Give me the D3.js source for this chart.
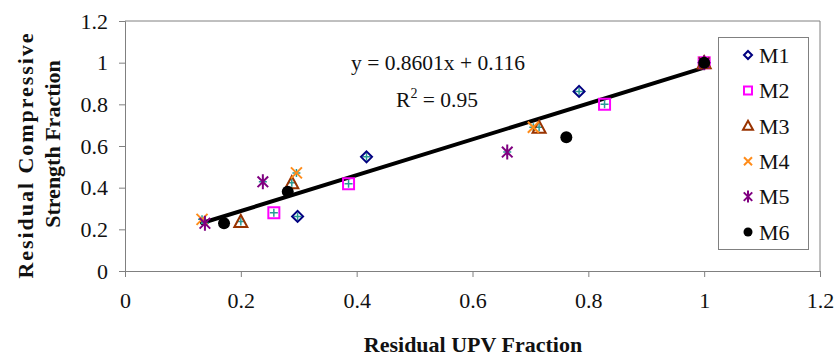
<!DOCTYPE html>
<html>
<head>
<meta charset="utf-8">
<script src="https://cdn.jsdelivr.net/npm/d3@7"></script>
<style>
  body { margin: 0; background: #fff; }
  svg { display: block; }
</style>
</head>
<body>
<svg id="chart" width="836" height="358"></svg>
<script>
// series data: [upv fraction, strength fraction]
var seriesNames = ['M1', 'M2', 'M3', 'M4', 'M5', 'M6'];
var m1 = [[0.298, 0.262], [0.417, 0.548], [0.784, 0.862], [1, 1]];
var m2 = [[0.257, 0.280], [0.386, 0.419], [0.828, 0.800], [1, 1]];
var m3 = [[0.200, 0.238], [0.288, 0.424], [0.715, 0.690], [1, 1]];
var m4 = [[0.133, 0.248], [0.296, 0.471], [0.705, 0.690], [1, 1]];
var m5 = [[0.138, 0.229], [0.238, 0.428], [0.660, 0.571], [1, 1]];
var m6 = [[0.171, 0.229], [0.281, 0.381], [0.762, 0.642], [1, 1]];
var seriesData = [m1, m2, m3, m4, m5, m6];

var xTicks = [0, 0.2, 0.4, 0.6, 0.8, 1, 1.2];
var yTicks = [0, 0.2, 0.4, 0.6, 0.8, 1, 1.2];
var trendSlope = 0.8601;
var trendIntercept = 0.116;
var trendRange = [0.133, 1];

var config = {
  left: 125, right: 820, top: 21, bottom: 271,
  axisColor: '#808080',
  tickSize: 6,
  fontSize: 22,
  font: '"Liberation Serif", "Times New Roman", serif',
  colors: ['#000080', '#ff00ff', '#993300', '#ff8c1a', '#800080', '#000000'],
  plusColor: '#2a9a96'
};

var svg = d3.select('#chart').attr('font-family', config.font);

var x = d3.scaleLinear().domain([0, 1.2]).range([config.left, config.right]);
var y = d3.scaleLinear().domain([0, 1.2]).range([config.bottom, config.top]);

// plot area frame (top + right)
svg.append('path')
  .attr('d', 'M' + config.left + ',' + config.top + 'H' + config.right + 'V' + config.bottom)
  .attr('fill', 'none')
  .attr('stroke', config.axisColor)
  .attr('stroke-width', 1);

var xAxis = svg.append('g')
  .attr('transform', 'translate(0,' + config.bottom + ')')
  .call(d3.axisBottom(x).tickValues(xTicks).tickSize(config.tickSize).tickPadding(15).tickFormat(d3.format('')));
var yAxis = svg.append('g')
  .attr('transform', 'translate(' + config.left + ',0)')
  .call(d3.axisLeft(y).tickValues(yTicks).tickSize(config.tickSize).tickPadding(11).tickFormat(d3.format('')));

[xAxis, yAxis].forEach(function(a) {
  a.attr('font-family', config.font).attr('font-size', config.fontSize);
  a.select('.domain').attr('stroke', config.axisColor);
  a.selectAll('.tick line').attr('stroke', config.axisColor);
  a.selectAll('.tick text').attr('fill', '#111');
});

// axis titles
svg.append('text')
  .attr('x', 473)
  .attr('y', 352)
  .attr('text-anchor', 'middle')
  .attr('font-weight', 'bold')
  .attr('font-size', config.fontSize + 'px')
  .attr('fill', '#111')
  .text('Residual UPV Fraction');

svg.append('text')
  .attr('transform', 'translate(33,156) rotate(-90)')
  .attr('text-anchor', 'middle')
  .attr('font-weight', 'bold')
  .attr('font-size', config.fontSize + 'px')
  .attr('fill', '#111')
  .attr('textLength', 245)
  .attr('lengthAdjust', 'spacing')
  .text('Residual Compressive');
svg.append('text')
  .attr('transform', 'translate(60,144) rotate(-90)')
  .attr('text-anchor', 'middle')
  .attr('font-weight', 'bold')
  .attr('font-size', config.fontSize + 'px')
  .attr('fill', '#111')
  .text('Strength Fraction');

// trend line
var line = d3.line()
  .x(function(d) { return x(d); })
  .y(function(d) { return y(trendSlope * d + trendIntercept); });
svg.append('path')
  .attr('d', line(trendRange))
  .attr('fill', 'none')
  .attr('stroke', '#000')
  .attr('stroke-width', 4)
  .attr('stroke-linecap', 'round');

// marker shapes
function markerPath(i, s) {
  var h = s / 2;
  if (i === 0) return 'M0,' + (-h) + 'L' + h + ',0L0,' + h + 'L' + (-h) + ',0Z';
  if (i === 1) return 'M' + (-h) + ',' + (-h) + 'H' + h + 'V' + h + 'H' + (-h) + 'Z';
  if (i === 2) return 'M0,' + (-h - 1) + 'L' + (h + 1) + ',' + h + 'H' + (-h - 1) + 'Z';
  if (i === 3) return 'M' + (-h) + ',' + (-h) + 'L' + h + ',' + h + 'M' + h + ',' + (-h) + 'L' + (-h) + ',' + h;
  if (i === 4) {
    var r = h + 1, a = r * 0.707;
    return 'M0,' + (-r) + 'V' + r + 'M' + (-a) + ',' + (-a) + 'L' + a + ',' + a + 'M' + a + ',' + (-a) + 'L' + (-a) + ',' + a;
  }
  return null;
}

function drawMarker(g, i, s) {
  if (i === 5) {
    g.append('circle').attr('r', s / 2 + 0.5).attr('fill', '#000');
  } else {
    g.append('path')
      .attr('d', markerPath(i, s))
      .attr('fill', 'none')
      .attr('stroke', config.colors[i])
      .attr('stroke-width', 2);
  }
}

// small teal crosses under the markers
seriesData.forEach(function(pts) {
  pts.forEach(function(p) {
    svg.append('path')
      .attr('transform', 'translate(' + x(p[0]) + ',' + y(p[1]) + ')')
      .attr('d', 'M-4,0H4M0,-4V4')
      .attr('stroke', config.plusColor)
      .attr('stroke-width', 1.5);
  });
});

seriesData.forEach(function(pts, i) {
  pts.forEach(function(p) {
    var g = svg.append('g').attr('transform', 'translate(' + x(p[0]) + ',' + y(p[1]) + ')');
    drawMarker(g, i, i === 4 ? 13 : 11);
  });
});

// equation
svg.append('text')
  .attr('x', 438).attr('y', 70)
  .attr('text-anchor', 'middle')
  .attr('font-size', '21.5px')
  .attr('fill', '#111')
  .text('y = 0.8601x + 0.116');
var r2 = svg.append('text')
  .attr('x', 437).attr('y', 107)
  .attr('text-anchor', 'middle')
  .attr('font-size', '21.5px')
  .attr('fill', '#111');
r2.append('tspan').text('R');
r2.append('tspan').attr('dy', -9).attr('font-size', '14px').text('2');
r2.append('tspan').attr('dy', 9).text(' = 0.95');

// legend
var legend = svg.append('g');
legend.append('rect')
  .attr('x', 718.5).attr('y', 37.5)
  .attr('width', 90).attr('height', 212)
  .attr('fill', '#fff')
  .attr('stroke', config.axisColor);
seriesNames.forEach(function(name, i) {
  var cy = 55 + i * 35.4;
  var g = legend.append('g').attr('transform', 'translate(748,' + cy + ')');
  drawMarker(g, i, i === 4 ? 10 : 8);
  legend.append('text')
    .attr('x', 759).attr('y', cy)
    .attr('dy', '0.35em')
    .attr('font-size', config.fontSize + 'px')
    .attr('fill', '#111')
    .text(name);
});
</script>
</body>
</html>
